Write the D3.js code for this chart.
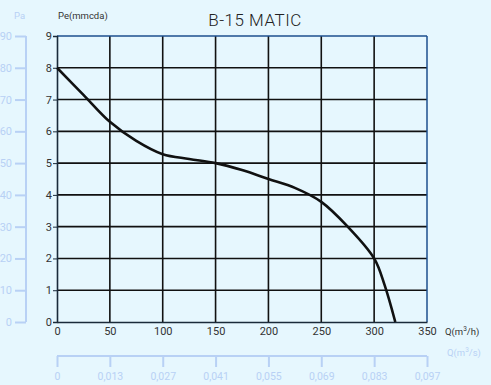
<!DOCTYPE html>
<html><head><meta charset="utf-8">
<script src="https://cdn.jsdelivr.net/npm/d3@7"></script>
<style>
html,body{margin:0;padding:0;background:#e6f7fe;}
svg{display:block;font-family:Roboto, "DejaVu Sans", sans-serif;}
</style></head>
<body><svg id="c" width="491" height="385"></svg>
<script>
const title = "B-15 MATIC";
const flowM3h = [0, 25, 50, 75, 100, 125, 150, 175, 200, 225, 250, 275, 300, 310, 320];
const pressure = [8, 7.15, 6.3, 5.7, 5.28, 5.13, 5.0, 4.78, 4.5, 4.22, 3.78, 3.0, 2.0, 1.15, 0];
const xTicks = [0, 50, 100, 150, 200, 250, 300, 350];
const yTicks = [0, 1, 2, 3, 4, 5, 6, 7, 8, 9];
const paTicks = [0, 10, 20, 30, 40, 50, 60, 70, 80, 90];
const m3sLabels = ["0", "0,013", "0,027", "0,041", "0,055", "0,069", "0,083", "0,097"];

const svg = d3.select("#c");
const L = 57, R = 427, T = 36, B = 322;
const x = d3.scaleLinear().domain([0, 350]).range([L, R]);
const y = d3.scaleLinear().domain([0, 9]).range([B, T]);
const yPa = d3.scaleLinear().domain([0, 90]).range([B, T]);
const light = "#b8d1f5";
const dark = "#333";

const g = svg.append("g");
g.selectAll(".hg").data(yTicks.filter(d => d > 0 && d < 9)).join("line")
  .attr("x1", L).attr("x2", R).attr("y1", d => y(d)).attr("y2", d => y(d))
  .attr("stroke", "#111").attr("stroke-width", 1.6);
g.selectAll(".vg").data(xTicks.filter(d => d > 0 && d < 350)).join("line")
  .attr("x1", d => x(d)).attr("x2", d => x(d)).attr("y1", T).attr("y2", B)
  .attr("stroke", "#111").attr("stroke-width", 1.6);
g.append("line").attr("x1", L).attr("x2", R).attr("y1", T).attr("y2", T).attr("stroke", "#1d4f8e").attr("stroke-width", 1.5);
g.append("line").attr("x1", R).attr("x2", R).attr("y1", T).attr("y2", B).attr("stroke", "#1d4f8e").attr("stroke-width", 1.5);

const ya = svg.append("g").attr("transform", `translate(${L},0)`)
  .call(d3.axisLeft(y).tickValues(yTicks).tickSize(4).tickPadding(1).tickFormat(d3.format("d")));
ya.select(".domain").attr("stroke", "#1a2a3a").attr("stroke-width", 1.6);
ya.selectAll(".tick line").attr("stroke", "#1a2a3a");
ya.selectAll("text").attr("fill", dark).attr("font-size", 11).attr("font-family", "Roboto, sans-serif");

const xa = svg.append("g").attr("transform", `translate(0,${B})`)
  .call(d3.axisBottom(x).tickValues(xTicks).tickSize(0).tickPadding(5).tickFormat(d3.format("d")));
xa.select(".domain").attr("stroke", "#1a2a3a").attr("stroke-width", 1.6);
xa.selectAll("text").attr("fill", dark).attr("font-size", 11).attr("font-family", "Roboto, sans-serif");

const pa = svg.append("g").attr("transform", "translate(26,0)")
  .call(d3.axisLeft(yPa).tickValues(paTicks).tickSize(11).tickPadding(3).tickSizeOuter(0));
pa.select(".domain").attr("stroke", light).attr("stroke-width", 2).attr("d", `M0,${yPa(90)}V${yPa(0)}`);
pa.selectAll(".tick line").attr("stroke", light).attr("stroke-width", 2);
pa.selectAll("text").attr("fill", light).attr("font-size", 11).attr("font-family", "Roboto, sans-serif");

const qa = svg.append("g").attr("transform", "translate(0,356)")
  .call(d3.axisBottom(x).tickValues(xTicks).tickSize(11).tickPadding(6).tickSizeOuter(0)
    .tickFormat((d, i) => m3sLabels[i]));
qa.select(".domain").attr("stroke", light).attr("stroke-width", 2).attr("d", `M${x(0)},0H${x(350)}`);
qa.selectAll(".tick line").attr("stroke", light).attr("stroke-width", 2);
qa.selectAll("text").attr("fill", light).attr("font-size", 10.5).attr("font-family", "Roboto, sans-serif");

const line = d3.line().x((d, i) => x(flowM3h[i])).y(d => y(d)).curve(d3.curveCatmullRom.alpha(0.5));
svg.append("path").datum(pressure).attr("d", line)
  .attr("fill", "none").attr("stroke", "#111").attr("stroke-width", 2.6);

svg.append("text").attr("x", 255).attr("y", 26).attr("text-anchor", "middle")
  .attr("font-size", 17).attr("font-weight", 300).attr("letter-spacing", 0.5).attr("fill", "#222").text(title);
svg.append("text").attr("x", 58).attr("y", 19).attr("font-size", 9.5).attr("fill", dark).text("Pe(mmcda)");
svg.append("text").attr("x", 14).attr("y", 19).attr("font-size", 9.5).attr("fill", light).text("Pa");
const qh = svg.append("text").attr("x", 445).attr("y", 335).attr("font-size", 9.5).attr("fill", dark);
qh.append("tspan").text("Q(m");
qh.append("tspan").attr("font-size", 6.5).attr("dy", -4).text("3");
qh.append("tspan").attr("dy", 4).text("/h)");
const qs = svg.append("text").attr("x", 447).attr("y", 356).attr("font-size", 9.5).attr("fill", light);
qs.append("tspan").text("Q(m");
qs.append("tspan").attr("font-size", 6.5).attr("dy", -4).text("3");
qs.append("tspan").attr("dy", 4).text("/s)");
</script></body></html>
